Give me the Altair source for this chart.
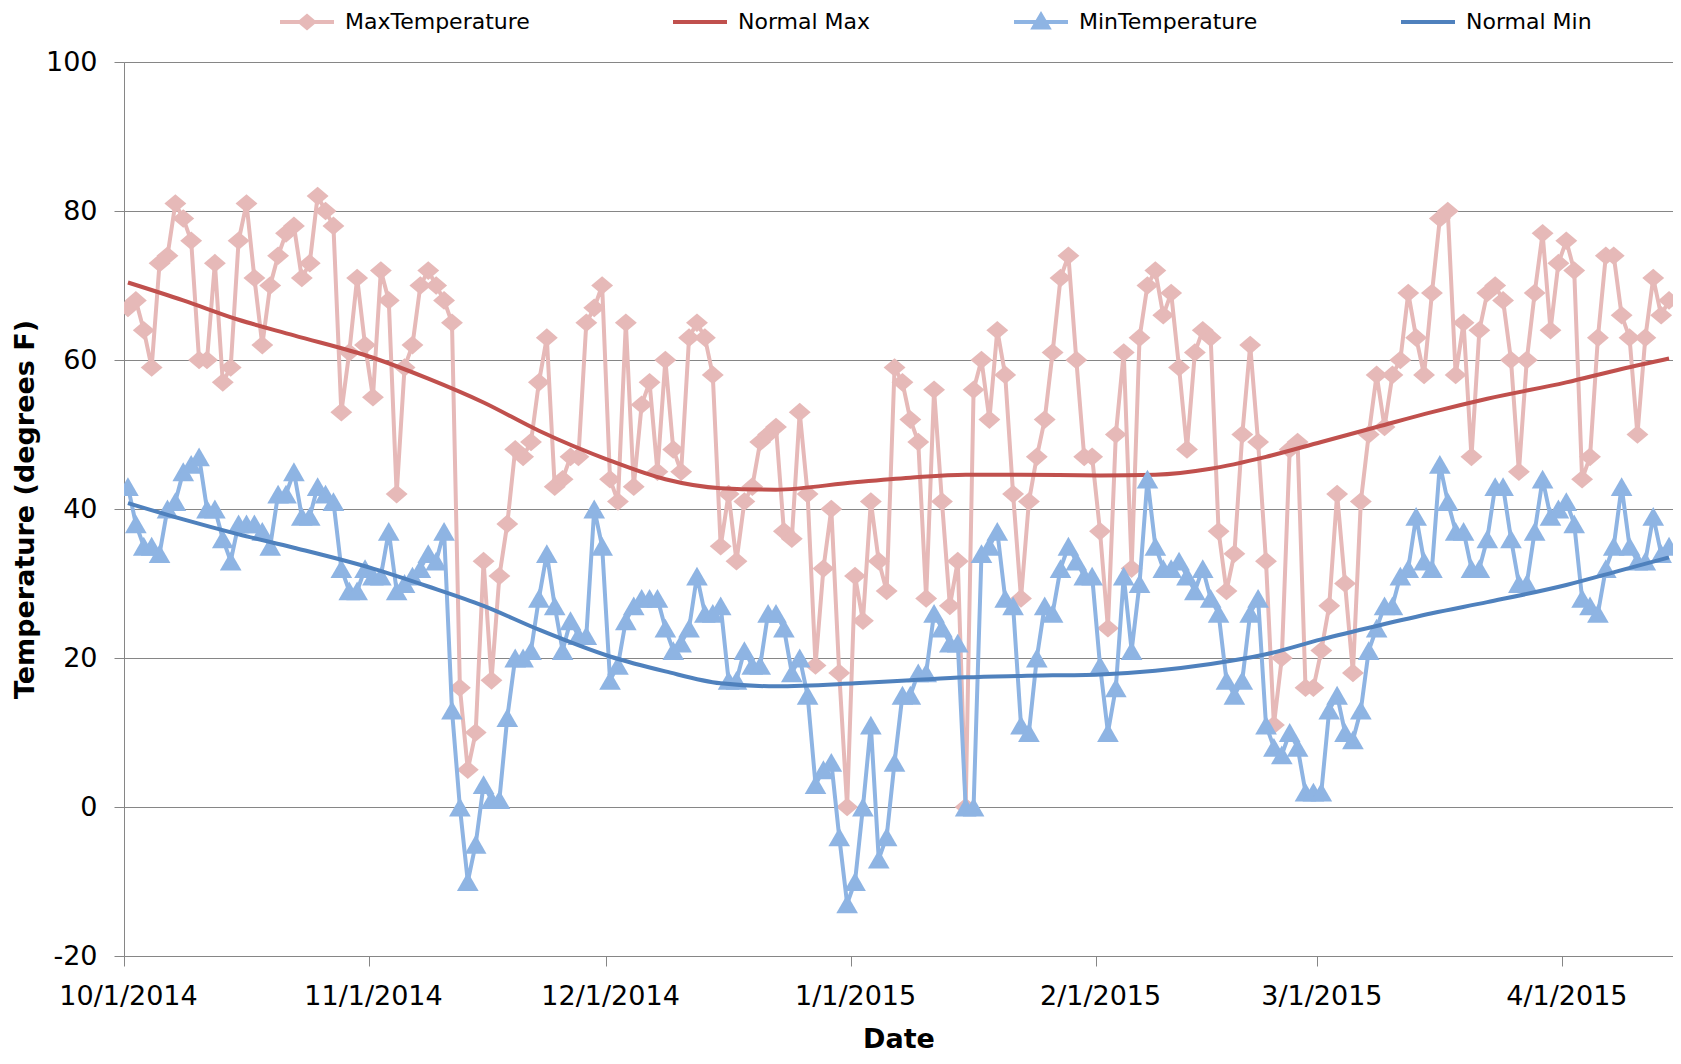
import altair as alt
import pandas as pd

START = "2014-10-01"
N_DAYS = 196

SERIES = ["MaxTemperature", "Normal Max", "MinTemperature", "Normal Min"]
COLORS = ["#E6B9B8", "#C0504D", "#8EB4E3", "#4F81BD"]

MAX_TEMP = [
    67, 68, 64, 59, 73, 74, 81, 79, 76, 60,
    60, 73, 57, 59, 76, 81, 71, 62, 70, 74,
    77, 78, 71, 73, 82, 80, 78, 53, 61, 71,
    62, 55, 72, 68, 42, 59, 62, 70, 72, 70,
    68, 65, 16, 5, 10, 33, 17, 31, 38, 48,
    47, 49, 57, 63, 43, 44, 47, 47, 65, 67,
    70, 44, 41, 65, 43, 54, 57, 45, 60, 48,
    45, 63, 65, 63, 58, 35, 42, 33, 41, 43,
    49, 50, 51, 37, 36, 53, 42, 19, 32, 40,
    18, 0, 31, 25, 41, 33, 29, 59, 57, 52,
    49, 28, 56, 41, 27, 33, 0, 56, 60, 52,
    64, 58, 42, 28, 41, 47, 52, 61, 71, 74,
    60, 47, 47, 37, 24, 50, 61, 32, 63, 70,
    72, 66, 69, 59, 48, 61, 64, 63, 37, 29,
    34, 50, 62, 49, 33, 11, 20, 48, 49, 16,
    16, 21, 27, 42, 30, 18, 41, 50, 58, 51,
    58, 60, 69, 63, 58, 69, 79, 80, 58, 65,
    47, 64, 69, 70, 68, 60, 45, 60, 69, 77,
    64, 73, 76, 72, 44, 47, 63, 74, 74, 66,
    63, 50, 63, 71, 66, 68,
]

MIN_TEMP = [
    43, 38, 35, 35, 34, 40, 41, 45, 46, 47,
    40, 40, 36, 33, 38, 38, 38, 37, 35, 42,
    42, 45, 39, 39, 43, 42, 41, 32, 29, 29,
    32, 31, 31, 37, 29, 30, 31, 32, 34, 33,
    37, 13, 0, -10, -5, 3, 1, 1, 12, 20,
    20, 21, 28, 34, 27, 21, 25, 23, 23, 40,
    35, 17, 19, 25, 27, 28, 28, 28, 24, 21,
    22, 24, 31, 26, 26, 27, 17, 17, 21, 19,
    19, 26, 26, 24, 18, 20, 15, 3, 5, 6,
    -4, -13, -10, 0, 11, -7, -4, 6, 15, 15,
    18, 18, 26, 24, 22, 22, 0, 0, 34, 35,
    37, 28, 27, 11, 10, 20, 27, 26, 32, 35,
    33, 31, 31, 19, 10, 16, 31, 21, 30, 44,
    35, 32, 32, 33, 31, 29, 32, 28, 26, 17,
    15, 17, 26, 28, 11, 8, 7, 10, 8, 2,
    2, 2, 13, 15, 10, 9, 13, 21, 24, 27,
    27, 31, 32, 39, 33, 32, 46, 41, 37, 37,
    32, 32, 36, 43, 43, 36, 30, 30, 37, 44,
    39, 40, 41, 38, 28, 27, 26, 32, 35, 43,
    35, 33, 33, 39, 34, 35,
]

NORMAL_DATES = [
    "2014-10-01", "2014-10-08", "2014-10-15", "2014-10-22", "2014-11-01",
    "2014-11-08", "2014-11-15", "2014-11-22", "2014-12-01", "2014-12-08",
    "2014-12-15", "2014-12-22", "2015-01-01", "2015-01-08", "2015-01-15",
    "2015-01-22", "2015-02-01", "2015-02-08", "2015-02-15", "2015-02-22",
    "2015-03-01", "2015-03-08", "2015-03-15", "2015-03-22", "2015-04-01",
    "2015-04-08", "2015-04-14",
]
NORMAL_MAX = [
    70.4, 68.0, 65.4, 63.3, 60.3, 57.5, 54.3, 50.5, 46.5, 44.0,
    42.8, 42.6, 43.6, 44.2, 44.6, 44.6, 44.5, 44.6, 45.4, 47.0,
    49.0, 51.0, 53.0, 54.8, 57.0, 58.8, 60.2,
]
NORMAL_MIN = [
    40.8, 38.6, 36.6, 34.8, 32.0, 29.6, 27.0, 23.8, 20.2, 18.2,
    16.6, 16.2, 16.6, 17.0, 17.4, 17.6, 17.8, 18.3, 19.2, 20.5,
    22.5, 24.3, 26.0, 27.5, 29.8, 31.8, 33.5,
]

X_TICKS = [(2014, 10), (2014, 11), (2014, 12), (2015, 1), (2015, 2), (2015, 3), (2015, 4)]
Y_TICKS = [-20, 0, 20, 40, 60, 80, 100]

DIAMOND = "M-1,0L0,-0.85L1,0L0,0.85Z"
BAR = "M-2.7,-0.2H2.7V0.2H-2.7Z"
LEGEND_SHAPES = [
    BAR + "M0,-0.85L1,0L0,0.85L-1,0Z",
    BAR,
    BAR + "M0,-1.1L1.08,0.75L-1.08,0.75Z",
    BAR,
]

days = pd.date_range(START, periods=N_DAYS, freq="D")
day_str = [d.strftime("%Y-%m-%dT12:00:00") for d in days]
norm_str = [d + "T12:00:00" for d in NORMAL_DATES]

rows = []
for d, v in zip(day_str, MAX_TEMP):
    rows.append({"date": d, "value": v, "series": "MaxTemperature"})
for d, v in zip(norm_str, NORMAL_MAX):
    rows.append({"date": d, "value": v, "series": "Normal Max"})
for d, v in zip(day_str, MIN_TEMP):
    rows.append({"date": d, "value": v, "series": "MinTemperature"})
for d, v in zip(norm_str, NORMAL_MIN):
    rows.append({"date": d, "value": v, "series": "Normal Min"})
df = pd.DataFrame(rows)

FONT = "DejaVu Sans"
AX_FS = 27

legend = alt.Legend(
    orient="none",
    legendX=172,
    legendY=-51,
    direction="horizontal",
    columns=4,
    title=None,
    labelFont=FONT,
    labelFontSize=22,
    labelColor="#000000",
    labelLimit=400,
    labelOffset=27,
    columnPadding=143,
    padding=0,
    symbolSize=400,
    symbolStrokeWidth=0,
    symbolOpacity=1,
)

color_scale = alt.Scale(domain=SERIES, range=COLORS)

x_enc = alt.X(
    "date:T",
    scale=alt.Scale(
        domain=[alt.DateTime(year=2014, month=10, date=1), alt.DateTime(year=2015, month=4, date=15)],
        nice=False,
    ),
    axis=alt.Axis(
        values=[alt.DateTime(year=y, month=m, date=1) for y, m in X_TICKS],
        format="%-m/%-d/%Y",
        title="Date",
        grid=False,
        tickSize=10,
        labelOffset=4,
        labelPadding=17,
        titlePadding=17,
        labelOverlap=False,
        labelFlush=False,
        labelBound=False,
    ),
)

y_enc = alt.Y(
    "value:Q",
    scale=alt.Scale(domain=[-20, 100], nice=False, zero=False),
    axis=alt.Axis(
        values=Y_TICKS,
        labelExpr="'' + datum.value",
        title="Temperature (degrees F)",
        grid=True,
        tickSize=10,
        labelPadding=17,
        titlePadding=6,
    ),
)

base = alt.Chart(df)


def line_layer(name, width):
    return base.transform_filter(alt.datum.series == name).mark_line(
        strokeWidth=width, clip=True,
        interpolate="monotone" if "Normal" in name else "linear",
    ).encode(
        x=x_enc, y=y_enc,
        color=alt.Color("series:N", scale=color_scale, legend=None),
    )


def point_layer(name, shape, size):
    return base.transform_filter(alt.datum.series == name).mark_point(
        shape=shape, filled=True, size=size, opacity=1, strokeWidth=0, clip=True
    ).encode(
        x=x_enc, y=y_enc,
        color=alt.Color("series:N", scale=color_scale, legend=None),
    )


legend_layer = base.transform_filter("false").mark_point(
    filled=False, size=400, strokeWidth=0, opacity=1, clip=True
).encode(
    x=x_enc, y=y_enc,
    color=alt.Color("series:N", scale=color_scale, legend=legend),
    fill=alt.Fill("series:N", scale=alt.Scale(domain=SERIES, range=COLORS), legend=legend),
    shape=alt.Shape("series:N", scale=alt.Scale(domain=SERIES, range=LEGEND_SHAPES), legend=legend),
)

chart = alt.layer(
    line_layer("MaxTemperature", 4),
    point_layer("MaxTemperature", DIAMOND, 480),
    line_layer("Normal Max", 4),
    line_layer("MinTemperature", 4),
    point_layer("MinTemperature", "triangle-up", 470),
    line_layer("Normal Min", 4),
    legend_layer,
).resolve_scale(
    fill="independent", shape="independent"
).properties(
    width=1549,
    height=894,
    padding={"left": 3, "top": 3, "right": 0, "bottom": 0},
    background="#FFFFFF",
).configure_view(
    stroke="#95B3D7", strokeWidth=1
).configure_axis(
    labelFont=FONT,
    labelFontSize=AX_FS,
    labelColor="#000000",
    titleFont=FONT,
    titleFontSize=AX_FS,
    titleFontWeight="bold",
    titleColor="#000000",
    domainColor="#868686",
    domainWidth=1,
    tickColor="#868686",
    tickWidth=1,
    gridColor="#868686",
    gridWidth=1,
)

chart.save("out.html", embed_options={"renderer": "svg", "actions": False})
